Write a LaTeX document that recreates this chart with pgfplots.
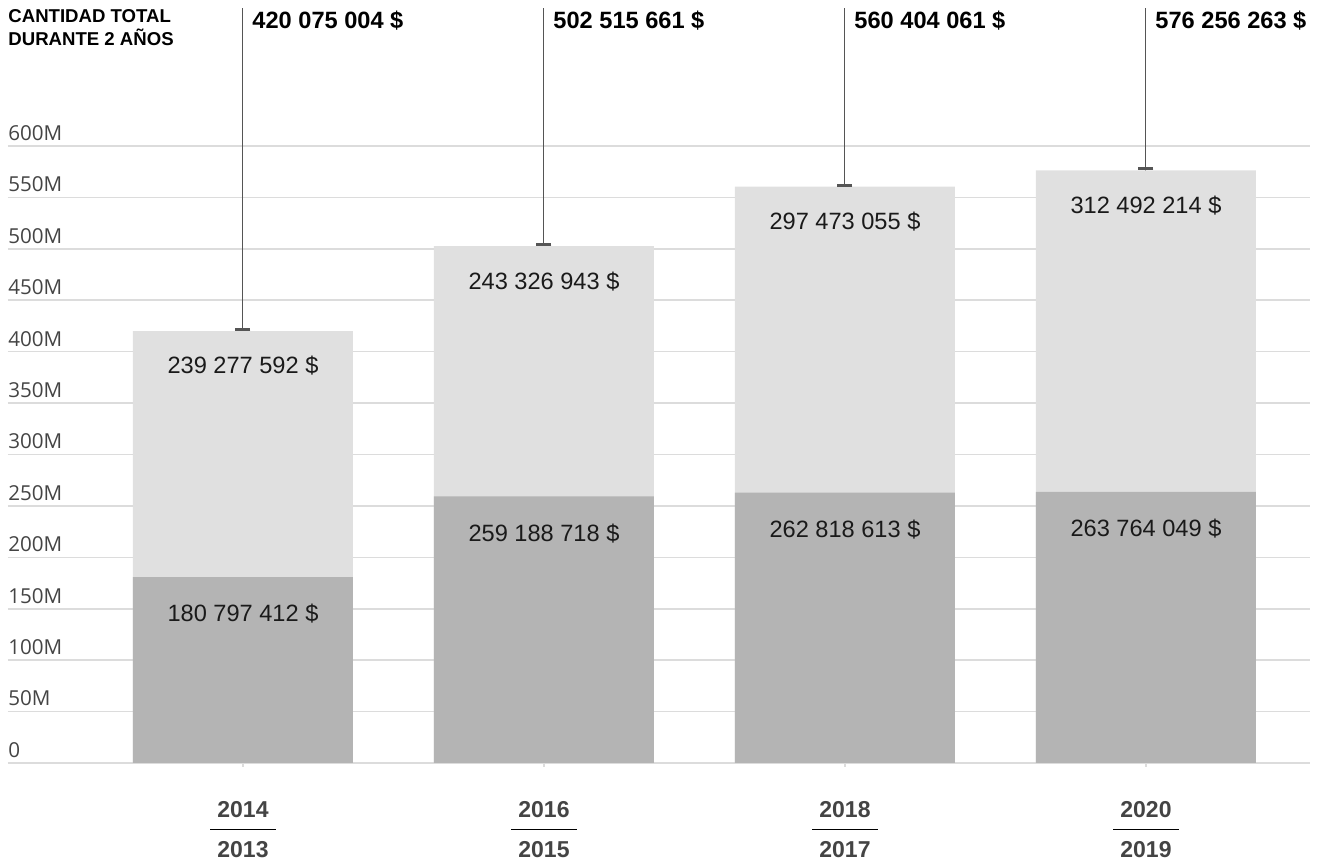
\documentclass[border=0pt]{standalone}
\usepackage{pgfplots}
\pgfplotsset{compat=1.18}
\usepackage{fontspec}
\setmainfont{Liberation Sans}
\newfontfamily\tickfont{Open Sans}
\usepackage{colortbl}
\definecolor{barlow}{HTML}{B4B4B4}
\definecolor{barhigh}{HTML}{E0E0E0}
\definecolor{gridc}{HTML}{DCDCDC}
\definecolor{tickc}{HTML}{444444}
\definecolor{linec}{HTML}{555555}
\definecolor{labc}{HTML}{1A1A1A}
\newcommand{\yrlab}[2]{{\renewcommand{\arraystretch}{1.431}\setlength{\tabcolsep}{3.5pt}\arrayrulecolor{black}\begin{tabular}{c}\textbf{#1}\\\hline\textbf{#2}\end{tabular}}}
\begin{document}
\begin{tikzpicture}
\path[use as bounding box] (0,0) rectangle (665pt,431pt);
\begin{axis}[
  at={(4pt,49.5pt)}, anchor=south west,
  scale only axis, width=651pt, height=308.5pt,
  xmin=-0.7807, xmax=3.5449, ymin=0, ymax=600,
  clip=false,
  axis line style={draw=none},
  ymajorgrids, grid style={gridc, line width=0.8pt},
  ytick={0,50,...,600},
  yticklabels={0,50M,100M,150M,200M,250M,300M,350M,400M,450M,500M,550M,600M},
  yticklabel style={anchor=south west, inner sep=0pt, xshift=2pt, yshift=2.5pt, font=\tickfont\fontsize{10.3}{12}\selectfont, text=tickc},
  ytick style={draw=none},
  xtick={0,1,2,3},
  xticklabels={{\yrlab{2014}{2013}},{\yrlab{2016}{2015}},{\yrlab{2018}{2017}},{\yrlab{2020}{2019}}},
  xticklabel style={anchor=north, inner sep=0pt, yshift=-11pt, font=\fontsize{11.5}{13.8}\selectfont, text=tickc},
  xtick style={draw=gridc, line width=0.8pt},
  tick align=outside, major tick length=2pt,
  tick pos=left,
]
% vertical leader lines with total labels
\addplot[ycomb, linec, line width=0.5pt, mark=none,
  point meta=explicit symbolic,
  nodes near coords={\pgfplotspointmeta},
  nodes near coords style={anchor=north west, inner sep=0pt, xshift=4.5pt, yshift=-1pt, font=\bfseries\fontsize{11.8}{13}\selectfont, text=black}]
  coordinates {(0,734.2)[420 075 004 \$] (1,734.2)[502 515 661 \$] (2,734.2)[560 404 061 \$] (3,734.2)[576 256 263 \$]};
% upper segment (total height)
\addplot[ybar, bar width=110pt, bar shift=0pt, fill=barhigh, draw=none,
  point meta=explicit symbolic,
  nodes near coords={\pgfplotspointmeta},
  nodes near coords style={anchor=north, inner sep=0pt, yshift=-12.5pt, font=\fontsize{11.8}{13}\selectfont, text=labc}]
  coordinates {(0,420.075004)[239 277 592 \$] (1,502.515661)[243 326 943 \$] (2,560.404061)[297 473 055 \$] (3,576.256263)[312 492 214 \$]};
% lower segment
\addplot[ybar, bar width=110pt, bar shift=0pt, fill=barlow, draw=none,
  point meta=explicit symbolic,
  nodes near coords={\pgfplotspointmeta},
  nodes near coords style={anchor=north, inner sep=0pt, yshift=-13.5pt, font=\fontsize{11.8}{13}\selectfont, text=labc}]
  coordinates {(0,180.797412)[180 797 412 \$] (1,259.188718)[259 188 718 \$] (2,262.818613)[262 818 613 \$] (3,263.764049)[263 764 049 \$]};
% caps
\addplot[only marks, mark=-, mark size=3.75pt, mark options={linec, line width=1.5pt}]
  coordinates {(0,421.5) (1,504) (2,562) (3,578)};
\node[anchor=north west, align=left, inner sep=0pt, font=\bfseries\fontsize{9.3}{11.5}\selectfont] at (axis cs:-0.7807,733) {CANTIDAD TOTAL\\DURANTE 2 AÑOS};
\end{axis}
\end{tikzpicture}
\end{document}
